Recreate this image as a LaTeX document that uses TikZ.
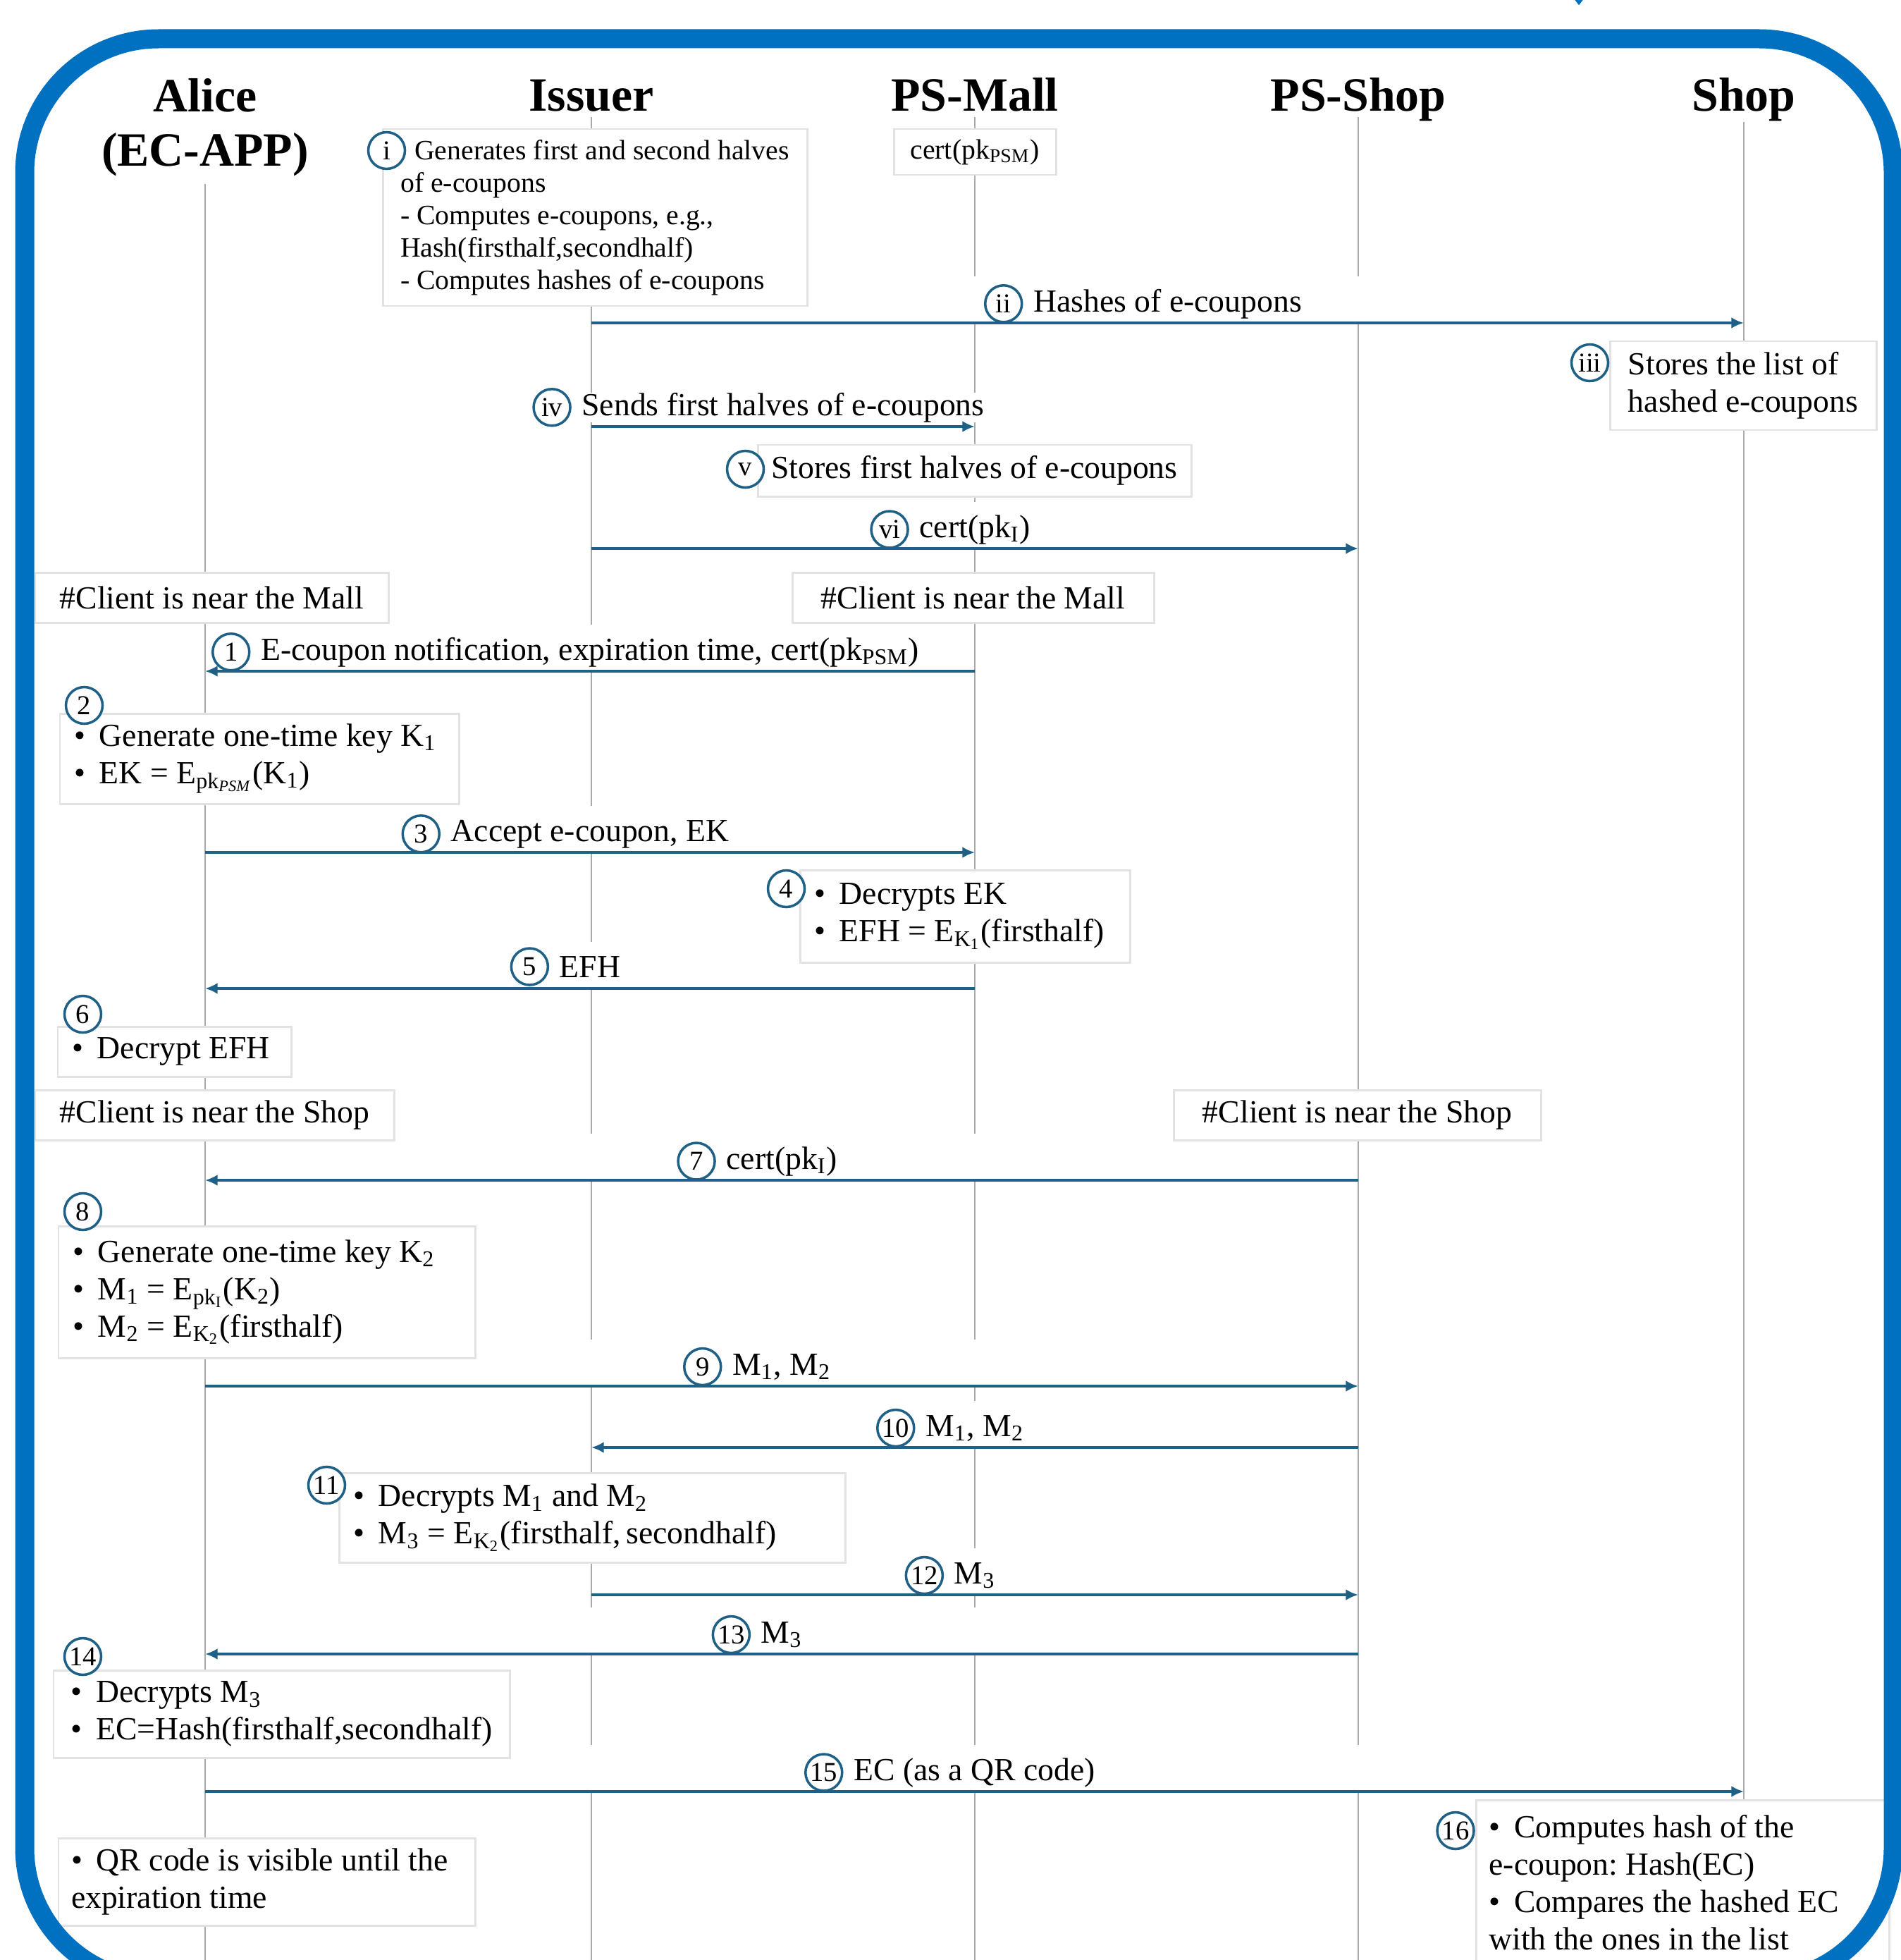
\documentclass[tikz,border=0pt]{standalone}
\usepackage{fontspec}
\setmainfont{Liberation Serif}
\usetikzlibrary{positioning,calc,arrows.meta}
\frenchspacing

\definecolor{frameblue}{RGB}{0,112,192}
\definecolor{msgblue}{RGB}{31,96,135}
\definecolor{lifegray}{RGB}{170,170,170}
\definecolor{boxgray}{RGB}{226,226,226}

\newcommand{\msub}[1]{\textsubscript{#1}}
\newcommand{\itm}{\textbullet\hspace{0.2cm}}

\begin{document}
\begin{tikzpicture}[
    actor/.style={font=\fontsize{19.3}{22}\selectfont\bfseries, align=center, inner sep=0pt, anchor=base},
    lifeline/.style={draw=lifegray, line width=0.75pt},
    note/.style={draw=boxgray, line width=0.85pt, fill=white, align=flush left, inner sep=0pt, font=\fontsize{13}{15.1}\selectfont},
    smallnote/.style={note, font=\fontsize{11.3}{13.1}\selectfont},
    listnote/.style={note, inner xsep=0.2cm},
    numc/.style={circle, draw=msgblue, line width=1pt, fill=white, minimum size=0.52cm, inner sep=0pt, font=\fontsize{11}{12}\selectfont},
    msg/.style={fill=white, inner sep=0pt, anchor=base, yshift=0.16cm, font=\fontsize{13}{15.1}\selectfont},
    gap/.style={fill=white, inner sep=0pt, minimum height=0.65cm, anchor=south},
    msgarrow/.style={draw=msgblue, line width=1.3pt, -{Latex[length=5pt,width=4.5pt]}}
    ]

    \path[use as bounding box, clip] (0,0) rectangle (26.97,-27.80);

    % Participants
    \node[actor] (alice) at (2.91,-2.36) {Alice\\(EC-APP)};
    \node[actor] (issuer) at (8.39,-1.58) {Issuer};
    \node[actor] (mall) at (13.83,-1.58) {PS-Mall};
    \node[actor] (pshop) at (19.27,-1.58) {PS-Shop};
    \node[actor] (shop) at (24.74,-1.58) {Shop};
    \coordinate (bot) at (0,-27.8);

    % Lifelines
    \draw[lifeline] ([yshift=-0.1cm]alice.south) -- (alice |- bot);
    \draw[lifeline] ([yshift=-0.08cm]issuer.base) -- (issuer |- bot);
    \draw[lifeline] ([yshift=-0.08cm]mall.base) -- (mall |- bot);
    \draw[lifeline] ([yshift=-0.08cm]pshop.base) -- (pshop |- bot);
    \draw[lifeline] ([yshift=-0.15cm]shop.base) -- (shop |- bot);

    % (ii) Issuer -> Shop
    \coordinate (ii-a) at (issuer |- 0,-4.58);
    \coordinate (ii-b) at (shop |- 0,-4.58);
    \node[gap, minimum width=15.35cm] at ($(ii-a)!0.5!(ii-b)$) {};
    \node[msg] (ii-t) at ($(ii-a)!0.5!(ii-b)$) {Hashes of e-coupons};
    \node[numc, left=0.14cm of ii-t] {ii};
    \draw[msgarrow] (ii-a) -- (ii-b);

    % (iv) Issuer -> PS-Mall
    \coordinate (iv-a) at (issuer |- 0,-6.05);
    \coordinate (iv-b) at (mall |- 0,-6.05);
    \node[msg] (iv-t) at ($(iv-a)!0.5!(iv-b)$) {Sends first halves of e-coupons};
    \node[numc, left=0.14cm of iv-t] {iv};
    \draw[msgarrow] (iv-a) -- (iv-b);

    % (vi) Issuer -> PS-Shop
    \coordinate (vi-a) at (issuer |- 0,-7.78);
    \coordinate (vi-b) at (pshop |- 0,-7.78);
    \node[gap, minimum width=9.88cm] at ($(vi-a)!0.5!(vi-b)$) {};
    \node[msg] (vi-t) at ($(vi-a)!0.5!(vi-b)$) {cert(pk\msub{I})};
    \node[numc, left=0.14cm of vi-t] {vi};
    \draw[msgarrow] (vi-a) -- (vi-b);

    % (1) PS-Mall -> Alice
    \coordinate (m1-a) at (mall |- 0,-9.52);
    \coordinate (m1-b) at (alice |- 0,-9.52);
    \node[gap, minimum width=9.92cm] at ($(m1-a)!0.5!(m1-b)$) {};
    \node[msg] (m1-t) at ($(m1-a)!0.5!(m1-b)$) {E-coupon notification, expiration time, cert(pk\msub{PSM})};
    \node[numc, left=0.14cm of m1-t] {1};
    \draw[msgarrow] (m1-a) -- (m1-b);

    % (3) Alice -> PS-Mall
    \coordinate (m3-a) at (alice |- 0,-12.09);
    \coordinate (m3-b) at (mall |- 0,-12.09);
    \node[gap, minimum width=9.92cm] at ($(m3-a)!0.5!(m3-b)$) {};
    \node[msg] (m3-t) at ($(m3-a)!0.5!(m3-b)$) {Accept e-coupon, EK};
    \node[numc, left=0.14cm of m3-t] {3};
    \draw[msgarrow] (m3-a) -- (m3-b);

    % (5) PS-Mall -> Alice
    \coordinate (m5-a) at (mall |- 0,-14.02);
    \coordinate (m5-b) at (alice |- 0,-14.02);
    \node[gap, minimum width=9.92cm] at ($(m5-a)!0.5!(m5-b)$) {};
    \node[msg] (m5-t) at ($(m5-a)!0.5!(m5-b)$) {EFH};
    \node[numc, left=0.14cm of m5-t] {5};
    \draw[msgarrow] (m5-a) -- (m5-b);

    % (7) PS-Shop -> Alice
    \coordinate (m7-a) at (pshop |- 0,-16.74);
    \coordinate (m7-b) at (alice |- 0,-16.74);
    \node[gap, minimum width=15.36cm] at ($(m7-a)!0.5!(m7-b)$) {};
    \node[msg] (m7-t) at ($(m7-a)!0.5!(m7-b)$) {cert(pk\msub{I})};
    \node[numc, left=0.14cm of m7-t] {7};
    \draw[msgarrow] (m7-a) -- (m7-b);

    % (9) Alice -> PS-Shop
    \coordinate (m9-a) at (alice |- 0,-19.66);
    \coordinate (m9-b) at (pshop |- 0,-19.66);
    \node[gap, minimum width=15.36cm] at ($(m9-a)!0.5!(m9-b)$) {};
    \node[msg] (m9-t) at ($(m9-a)!0.5!(m9-b)$) {M\msub{1}, M\msub{2}};
    \node[numc, left=0.14cm of m9-t] {9};
    \draw[msgarrow] (m9-a) -- (m9-b);

    % (10) PS-Shop -> Issuer
    \coordinate (m10-a) at (pshop |- 0,-20.53);
    \coordinate (m10-b) at (issuer |- 0,-20.53);
    \node[gap, minimum width=9.88cm] at ($(m10-a)!0.5!(m10-b)$) {};
    \node[msg] (m10-t) at ($(m10-a)!0.5!(m10-b)$) {M\msub{1}, M\msub{2}};
    \node[numc, left=0.14cm of m10-t] {10};
    \draw[msgarrow] (m10-a) -- (m10-b);

    % (12) Issuer -> PS-Shop
    \coordinate (m12-a) at (issuer |- 0,-22.62);
    \coordinate (m12-b) at (pshop |- 0,-22.62);
    \node[gap, minimum width=9.88cm] at ($(m12-a)!0.5!(m12-b)$) {};
    \node[msg] (m12-t) at ($(m12-a)!0.5!(m12-b)$) {M\msub{3}};
    \node[numc, left=0.14cm of m12-t] {12};
    \draw[msgarrow] (m12-a) -- (m12-b);

    % (13) PS-Shop -> Alice
    \coordinate (m13-a) at (pshop |- 0,-23.46);
    \coordinate (m13-b) at (alice |- 0,-23.46);
    \node[gap, minimum width=15.36cm] at ($(m13-a)!0.5!(m13-b)$) {};
    \node[msg] (m13-t) at ($(m13-a)!0.5!(m13-b)$) {M\msub{3}};
    \node[numc, left=0.14cm of m13-t] {13};
    \draw[msgarrow] (m13-a) -- (m13-b);

    % (15) Alice -> Shop
    \coordinate (m15-a) at (alice |- 0,-25.41);
    \coordinate (m15-b) at (shop |- 0,-25.41);
    \node[gap, minimum width=20.83cm] at ($(m15-a)!0.5!(m15-b)$) {};
    \node[msg] (m15-t) at ($(m15-a)!0.5!(m15-b)$) {EC (as a QR code)};
    \node[numc, left=0.14cm of m15-t] {15};
    \draw[msgarrow] (m15-a) -- (m15-b);

    % Issuer and PS-Mall set-up
    \node[smallnote, minimum width=2.30cm, minimum height=0.65cm] (certpsm) at (13.83,-2.155) {cert(pk\msub{PSM})};
    \node[smallnote, minimum width=6.02cm, minimum height=2.51cm] (gen) at (8.44,-3.085)
        {\hspace{0.2cm}Generates first and second halves\\of e-coupons\\- Computes e-coupons, e.g.,\\Hash(firsthalf,secondhalf)\\- Computes hashes of e-coupons};
    \node[numc] at ([shift={(0.07,-0.32)}]gen.north west) {i};
    \node[note, minimum width=3.78cm, minimum height=1.26cm] (storeh) at (24.73,-5.47) {Stores the list of\\hashed e-coupons};
    \node[numc] at ([shift={(-0.27,-0.32)}]storeh.north west) {iii};
    \node[note, minimum width=6.15cm, minimum height=0.73cm] (storef) at (13.825,-6.675) {Stores first halves of e-coupons};
    \node[numc] at ([shift={(-0.16,-0.36)}]storef.north west) {v};

    % Client near the Mall
    \node[note, minimum width=5.01cm, minimum height=0.71cm] (nearmall-a) at (3.005,-8.475) {\#Client is near the Mall};
    \node[note, minimum width=5.13cm, minimum height=0.71cm] (nearmall-m) at (13.805,-8.475) {\#Client is near the Mall};
    \node[listnote, text width=5.26cm, minimum height=1.28cm] (keyone) at (3.68,-10.76)
        {\itm Generate one-time key K\msub{1}\\\itm EK = E\msub{pk\msub{\textit{PSM}}}(K\msub{1})};
    \node[numc] at ([shift={(0.36,0.10)}]keyone.north west) {2};
    \node[listnote, text width=4.28cm, minimum height=1.31cm] (decek) at (13.69,-12.995)
        {\itm Decrypts EK\\\itm EFH = E\msub{K\msub{1}}(firsthalf)};
    \node[numc] at ([shift={(-0.18,-0.28)}]decek.north west) {4};
    \node[listnote, text width=2.91cm, minimum height=0.71cm] (decefh) at (2.475,-14.915) {\itm Decrypt EFH};
    \node[numc] at ([shift={(0.37,0.16)}]decefh.north west) {6};

    % Client near the Shop
    \node[note, minimum width=5.09cm, minimum height=0.71cm] (nearshop-a) at (3.045,-15.815) {\#Client is near the Shop};
    \node[note, minimum width=5.21cm, minimum height=0.71cm] (nearshop-p) at (19.255,-15.815) {\#Client is near the Shop};
    \node[listnote, text width=5.51cm, minimum height=1.87cm] (keytwo) at (3.785,-18.325)
        {\itm Generate one-time key K\msub{2}\\\itm M\msub{1} = E\msub{pk\msub{I}}(K\msub{2})\\\itm M\msub{2} = E\msub{K\msub{2}}(firsthalf)};
    \node[numc] at ([shift={(0.36,0.19)}]keytwo.north west) {8};
    \node[listnote, text width=6.78cm, minimum height=1.27cm] (decm) at (8.40,-21.525)
        {\itm Decrypts M\msub{1} and M\msub{2}\\\itm M\msub{3} = E\msub{K\msub{2}}(firsthalf,\,secondhalf)};
    \node[numc] at ([shift={(-0.16,-0.19)}]decm.north west) {11};
    \node[note, minimum width=6.47cm, minimum height=1.24cm] (decmthree) at (3.995,-24.31)
        {\itm Decrypts M\msub{3}\\\itm EC=Hash(firsthalf,secondhalf)};
    \node[numc] at ([shift={(0.43,0.18)}]decmthree.north west) {14};
    \node[listnote, inner xsep=0.18cm, text width=5.55cm, minimum height=1.24cm] (qrvis) at (3.785,-26.69)
        {\itm QR code is visible until the\\expiration time};
    \node[listnote, inner xsep=0.18cm, text width=5.5cm, minimum height=2.34cm] (cmphash) at (23.875,-26.70)
        {\itm Computes hash of the\\e-coupon: Hash(EC)\\\itm Compares the hashed EC\\with the ones in the list};
    \node[numc] at ([shift={(-0.28,-0.45)}]cmphash.north west) {16};

    % Frame
    \draw[frameblue, line width=0.27cm, rounded corners=1.9cm] (0.35,-0.55) rectangle (26.86,-28.11);
    \draw[frameblue, line width=0.04cm] (22.33,0.05) -- (22.40,-0.04) -- (22.47,0.05);
\end{tikzpicture}
\end{document}
